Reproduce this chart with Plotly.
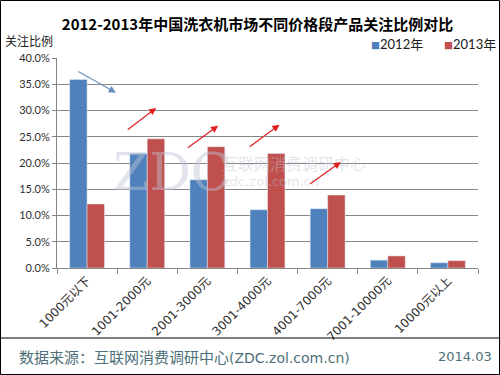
import plotly.graph_objects as go

categories = ["1000元以下", "1001-2000元", "2001-3000元", "3001-4000元", "4001-7000元", "7001-10000元", "10000元以上"]
values_2012 = [35.9, 21.8, 16.8, 11.1, 11.3, 1.5, 1.0]
values_2013 = [12.2, 24.6, 23.1, 21.8, 13.9, 2.3, 1.4]
series_names = ["2012年", "2013年"]
series_colors = ["#4F81BD", "#C0504D"]
tick_vals = [0, 5, 10, 15, 20, 25, 30, 35, 40]
tick_text = ["0.0%", "5.0%", "10.0%", "15.0%", "20.0%", "25.0%", "30.0%", "35.0%", "40.0%"]

W, H = 500, 375
ML, MR, MT, MB = 57, 22, 58, 107
PW, PH = W - ML - MR, H - MT - MB

def px(x):
    return (x - ML) / PW

def py(y):
    return (H - MB - y) / PH

font_cjk = "Noto Sans CJK SC"
font_num = "Lato, Noto Sans CJK SC"
footer_color = "#4d7078"

fig = go.Figure()
for name, vals, col in zip(series_names, [values_2012, values_2013], series_colors):
    fig.add_trace(go.Bar(x=categories, y=vals, name=name, marker_color=col, showlegend=False))

shapes = [
    dict(type="rect", xref="paper", yref="paper", x0=px(0.5), x1=px(W - 0.5), y0=py(0.5), y1=py(H - 0.5),
         line=dict(color="black", width=1), layer="below"),
    dict(type="line", xref="paper", yref="paper", x0=px(0.5), x1=px(W - 0.5), y0=py(338), y1=py(338),
         line=dict(color="black", width=1)),
]

annotations = [
    dict(text="关注比例", xref="paper", yref="paper", x=px(3), y=py(40), xanchor="left", yanchor="middle",
         showarrow=False, font=dict(family=font_cjk, size=12, color="#202020")),
    dict(text="数据来源：互联网消费调研中心<span style='font-family:DejaVu Sans;font-size:14px'>(ZDC.zol.com.cn)</span>",
         xref="paper", yref="paper", x=px(17), y=py(356),
         xanchor="left", yanchor="middle", showarrow=False, font=dict(family=font_cjk, size=15, color=footer_color)),
    dict(text="2014.03", xref="paper", yref="paper", x=px(494), y=py(356),
         xanchor="right", yanchor="middle", showarrow=False, font=dict(family="DejaVu Sans", size=13, color=footer_color)),
    # legend (manual, small squares)
    dict(text="<span style='color:%s;font-size:9px'>■</span>%s" % (series_colors[0], series_names[0]),
         xref="paper", yref="paper", x=px(369), y=py(44), xanchor="left", yanchor="middle",
         showarrow=False, font=dict(family=font_num, size=13, color="#202020")),
    dict(text="<span style='color:%s;font-size:9px'>■</span>%s" % (series_colors[1], series_names[1]),
         xref="paper", yref="paper", x=px(442), y=py(44), xanchor="left", yanchor="middle",
         showarrow=False, font=dict(family=font_num, size=13, color="#202020")),
    # watermark
    dict(text="ZDC", xref="paper", yref="paper", x=px(172), y=py(172), xanchor="center", yanchor="middle",
         showarrow=False, font=dict(family="DejaVu Serif", size=52, color="rgba(190,195,210,0.45)")),
    dict(text="互联网消费调研中心", xref="paper", yref="paper", x=px(220), y=py(163), xanchor="left", yanchor="middle",
         showarrow=False, font=dict(family=font_cjk, size=16, color="rgba(190,195,210,0.45)")),
    dict(text="zdc.zol.com.cn", xref="paper", yref="paper", x=px(221), y=py(181), xanchor="left", yanchor="middle",
         showarrow=False, font=dict(family="DejaVu Sans", size=13, color="rgba(190,195,210,0.45)")),
]

# trend arrows (data coords: category index, percent)
arrows = [
    ((-0.17, 37.6), (0.48, 33.4), "#6a8fbf"),
    ((0.65, 26.1), (1.15, 30.5), "#e0201e"),
    ((1.65, 22.7), (2.18, 27.1), "#e0201e"),
    ((2.68, 22.9), (3.20, 27.3), "#e0201e"),
    ((3.68, 15.8), (4.22, 20.2), "#e0201e"),
]
for (x0, y0), (x1, y1), c in arrows:
    annotations.append(dict(x=x1, y=y1, ax=x0, ay=y0, xref="x", yref="y", axref="x", ayref="y",
                            text="", showarrow=True, arrowhead=2, arrowsize=1.2, arrowwidth=1.2, arrowcolor=c))

fig.update_layout(
    width=W, height=H,
    margin=dict(l=ML, r=MR, t=MT, b=MB, autoexpand=False),
    paper_bgcolor="white", plot_bgcolor="white",
    title=dict(text="<b>2012-2013年中国洗衣机市场不同价格段产品关注比例对比</b>", x=(67 + 448) / 2 / W, xanchor="center",
               y=1 - 25 / H, yanchor="middle", font=dict(family=font_cjk, size=15, color="black")),
    barmode="group", bargap=0.42, bargroupgap=0,
    showlegend=False,
    xaxis=dict(type="category", tickangle=-45, tickfont=dict(family="DejaVu Sans, Noto Sans CJK SC", size=12, color="#303030"),
               showline=True, linecolor="#868686", ticks="outside", tickson="boundaries", ticklen=5,
               tickcolor="#868686", showgrid=False, range=[-0.5, 6.5], automargin=False),
    yaxis=dict(range=[0, 40], tickvals=tick_vals, ticktext=tick_text,
               tickfont=dict(family=font_num, size=11, color="#303030"),
               showline=True, linecolor="#868686", ticks="outside", ticklen=4, tickcolor="#868686",
               showgrid=True, gridcolor="#868686", gridwidth=1, zeroline=False, automargin=False),
    shapes=shapes, annotations=annotations,
)

fig.write_html("out.html", config={"displayModeBar": False}, post_script="document.body.style.margin='0';")
